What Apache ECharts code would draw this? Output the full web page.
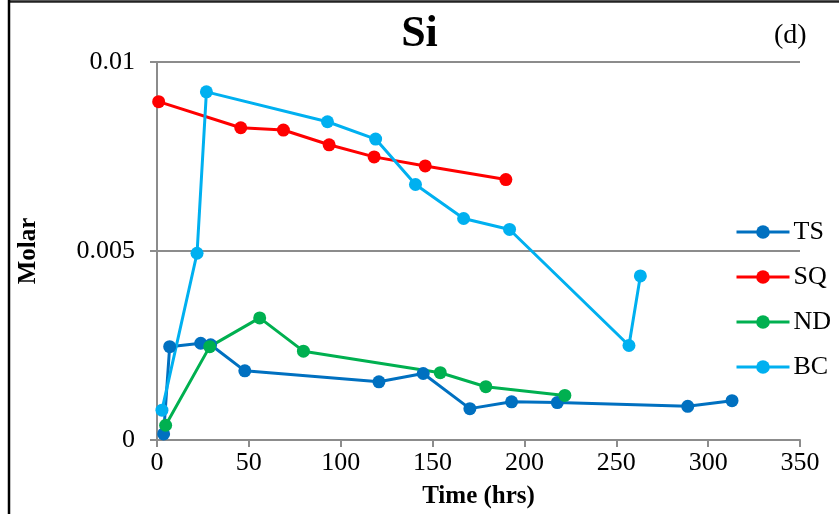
<!DOCTYPE html>
<html>
<head>
<meta charset="utf-8">
<script src="https://cdn.jsdelivr.net/npm/echarts@6/dist/echarts.min.js"></script>
<style>
  html, body { margin: 0; padding: 0; background: #fff; }
  #chart { width: 839px; height: 514px; }
</style>
</head>
<body>
<div id="chart"></div>
<script>
// Dissolved Si concentration over time for four sites
const tsTime  = [3.6, 6.9, 23.8, 29.2, 47.8, 120.8, 144.9, 170.3, 193.0, 217.9, 288.9, 313.0];
const tsMolar = [0.00016, 0.00247, 0.00256, 0.00252, 0.00183, 0.00154, 0.00176, 0.00083, 0.00101, 0.00099, 0.00089, 0.00104];

const sqTime  = [0.9, 45.6, 68.8, 93.7, 118.2, 146.0, 189.9];
const sqMolar = [0.00895, 0.00826, 0.00820, 0.00781, 0.00749, 0.00725, 0.00689];

const ndTime  = [4.7, 28.7, 55.9, 79.7, 154.2, 179.0, 222.0];
const ndMolar = [0.00039, 0.00247, 0.00323, 0.00235, 0.00178, 0.00141, 0.00118];

const bcTime  = [2.7, 21.8, 26.9, 92.8, 119.0, 140.7, 166.9, 191.9, 256.9, 263.1];
const bcMolar = [0.00079, 0.00494, 0.00921, 0.00842, 0.00796, 0.00676, 0.00586, 0.00557, 0.00250, 0.00434];

const xTicks = [0, 50, 100, 150, 200, 250, 300, 350];
const yTickLabels = { 0: '0', 0.005: '0.005', 0.01: '0.01' };

const SERIF = '"Liberation Serif", "Times New Roman", serif';
const AXIS_GRAY = '#8c8c8c';

function pairs(xs, ys) { return xs.map((x, i) => [x, ys[i]]); }

function lineSeries(name, color, xs, ys) {
  return {
    name: name,
    type: 'line',
    data: pairs(xs, ys),
    symbol: 'circle',
    symbolSize: 13,
    lineStyle: { color: color, width: 3 },
    itemStyle: { color: color },
    emphasis: { disabled: true },
    animation: false
  };
}

const chart = echarts.init(document.getElementById('chart'), null, { renderer: 'canvas' });

chart.setOption({
  backgroundColor: '#ffffff',
  animation: false,
  title: {
    text: 'Si',
    left: 'center',
    top: 8,
    textStyle: { fontFamily: SERIF, fontSize: 44, fontWeight: 'bold', color: '#000' }
  },
  graphic: [
    { type: 'text', left: 774, top: 22, style: { text: '(d)', font: '28px ' + SERIF, fill: '#000' } },
    { type: 'line', shape: { x1: 8, y1: 1.5, x2: 839, y2: 1.5 }, style: { stroke: '#222', lineWidth: 2.5 } },
    { type: 'line', shape: { x1: 9, y1: 0, x2: 9, y2: 514 }, style: { stroke: '#000', lineWidth: 2.5 } }
  ],
  legend: {
    orient: 'vertical',
    left: 735,
    top: 219,
    padding: 0,
    itemWidth: 53,
    itemHeight: 17,
    itemGap: 19,
    lineStyle: { width: 3 },
    textStyle: { fontFamily: SERIF, fontSize: 26, color: '#000', padding: [0, 0, 0, -1] },
    data: ['TS', 'SQ', 'ND', 'BC']
  },
  grid: { left: 157, right: 39, top: 62, bottom: 72, containLabel: false },
  xAxis: {
    type: 'value',
    min: xTicks[0],
    max: xTicks[xTicks.length - 1],
    interval: 50,
    name: 'Time (hrs)',
    nameLocation: 'middle',
    nameGap: 44,
    nameTextStyle: { fontFamily: SERIF, fontSize: 25, fontWeight: 'bold', color: '#000' },
    axisLine: { show: true, lineStyle: { color: AXIS_GRAY, width: 2 } },
    axisTick: { show: true, inside: false, length: 7, lineStyle: { color: AXIS_GRAY, width: 2 } },
    axisLabel: { fontFamily: SERIF, fontSize: 26, color: '#000', margin: 10 },
    splitLine: { show: false }
  },
  yAxis: {
    type: 'value',
    min: 0,
    max: 0.01,
    interval: 0.005,
    name: 'Molar',
    nameLocation: 'middle',
    nameGap: 116,
    nameRotate: 90,
    nameTextStyle: { fontFamily: SERIF, fontSize: 25, fontWeight: 'bold', color: '#000' },
    axisLine: { show: true, lineStyle: { color: AXIS_GRAY, width: 2 } },
    axisTick: { show: true, inside: false, length: 7, lineStyle: { color: AXIS_GRAY, width: 2 } },
    axisLabel: {
      fontFamily: SERIF, fontSize: 26, color: '#000', margin: 22,
      formatter: v => (yTickLabels[v] !== undefined ? yTickLabels[v] : String(v))
    },
    splitLine: { show: true, lineStyle: { color: AXIS_GRAY, width: 2 } }
  },
  series: [
    lineSeries('TS', '#0070C0', tsTime, tsMolar),
    lineSeries('SQ', '#FF0000', sqTime, sqMolar),
    lineSeries('ND', '#00B050', ndTime, ndMolar),
    lineSeries('BC', '#00B0F0', bcTime, bcMolar)
  ]
});
</script>
</body>
</html>
